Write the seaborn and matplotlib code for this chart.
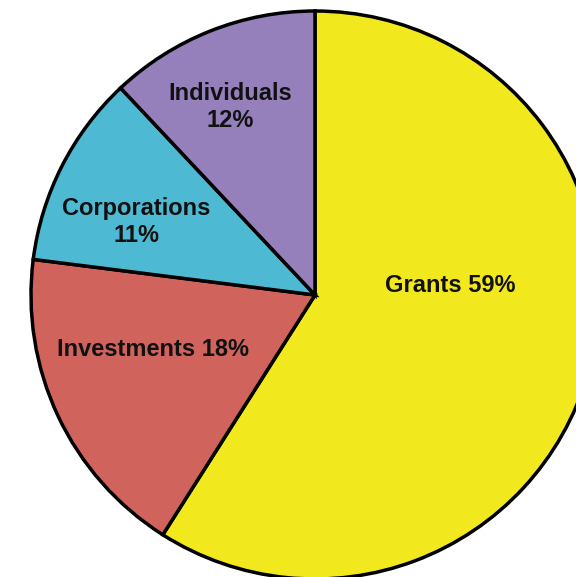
import seaborn as sns
import matplotlib.pyplot as plt

# Funding sources (percent)
sources = ['Grants', 'Investments', 'Corporations', 'Individuals']
shares = [59, 18, 11, 12]
colors = ['#F2E81E', '#D0645C', '#4EB9D2', '#9680BC']
label_texts = ['Grants 59%', 'Investments 18%', 'Corporations\n11%', 'Individuals\n12%']

sns.set_theme(style='white')
plt.rcParams['font.family'] = ['Liberation Sans', 'DejaVu Sans']

fig = plt.figure(figsize=(5.76, 5.77), dpi=100)
ax = fig.add_axes([0, 0, 1, 1])

wedges, _ = ax.pie(
    shares,
    colors=colors,
    startangle=90,
    counterclock=False,
    radius=1.0,
    wedgeprops=dict(edgecolor='black', linewidth=2.5),
)

# label placement inside each wedge, in units of the pie radius
label_xy = [(0.477, 0.035), (-0.572, -0.191), (-0.629, 0.258), (-0.297, 0.661)]
for txt, (x, y) in zip(label_texts, label_xy):
    ax.text(x, y, txt, ha='center', va='center', fontsize=17,
            fontweight='bold', color='#111111', linespacing=1.2)

# pie centre sits at (315, 295) px with radius ~284 px, clipped by the figure
r_px = 284.0
ax.set_xlim(-315 / r_px, (576 - 315) / r_px)
ax.set_ylim((295 - 577) / r_px, 295 / r_px)
ax.set_aspect('auto')
ax.axis('off')

fig.savefig('out.png', dpi=100)
